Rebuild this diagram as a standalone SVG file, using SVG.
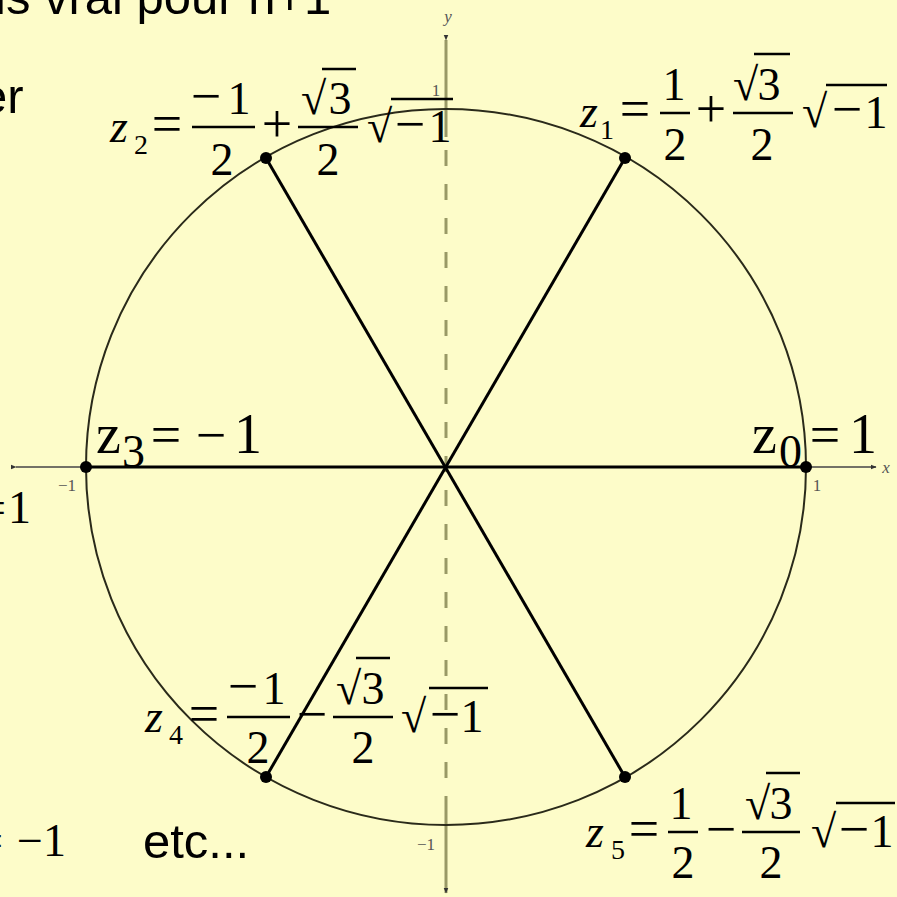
<svg xmlns="http://www.w3.org/2000/svg" width="897" height="897" viewBox="0 0 897 897">
<defs>
<style>
.m{font-family:"Liberation Serif","Times New Roman",serif;fill:#000;font-size:46px}
.op{font-family:"Liberation Serif","Times New Roman",serif;fill:#000;font-size:54px;text-anchor:middle}
.c{text-anchor:middle}
.it{font-style:italic}
.sub{font-size:28px}
.big{font-size:56px}
.sans{font-family:"Liberation Sans",Arial,sans-serif;fill:#000;font-size:49px}
.tick{font-family:"Liberation Serif","Times New Roman",serif;fill:#555;font-size:17px;text-anchor:middle}
.bar{stroke:#000;stroke-width:2.5}
.spoke{stroke:#000;stroke-width:3}
.dot{fill:#000}
</style>
<marker id="ah" viewBox="0 0 10 10" refX="9" refY="5" markerWidth="6" markerHeight="6" markerUnits="userSpaceOnUse" orient="auto"><path d="M0,1 L10,5 L0,9 Z" fill="#333"/></marker>
</defs>
<rect width="897" height="897" fill="#FDFCC9"/>
<g id="background-text">
<text class="sans" x="-5" y="14">is vrai pour n+1</text>
<text class="sans" x="-20" y="113" font-size="50">er</text>
<text class="m" x="6" y="523" font-size="50" text-anchor="end">=</text>
<text class="m" x="8" y="523" font-size="50">1</text>
<text class="m" x="3" y="856" font-size="50" text-anchor="end">=</text>
<text class="m" x="66" y="856" font-size="50" text-anchor="end">−1</text>
<text class="sans" x="143" y="858" font-size="48">etc...</text>
</g>
<g id="axes">
<line x1="446" y1="40" x2="446" y2="137" stroke="#999966" stroke-width="3" marker-start="url(#ah)"/>
<line x1="446" y1="150" x2="446" y2="800" stroke="#999966" stroke-width="3" stroke-dasharray="16 18"/>
<line x1="446" y1="800" x2="446" y2="893" stroke="#999966" stroke-width="3" marker-end="url(#ah)"/>
<line x1="16" y1="467" x2="876" y2="467" stroke="#444" stroke-width="1.5" marker-start="url(#ah)" marker-end="url(#ah)"/>
<text class="tick it" x="448" y="22" fill="#888" font-size="18">y</text>
<text class="tick it" x="886" y="473" font-size="18" text-anchor="start">x</text>
<text class="tick" x="436" y="96">1</text>
<text class="tick" x="67" y="491">−1</text>
<text class="tick" x="817" y="491">1</text>
<text class="tick" x="426" y="850">−1</text>
</g>
<ellipse id="circle" cx="446" cy="467" rx="360" ry="358" fill="none" stroke="#2a2a1a" stroke-width="2"/>
<g id="connectors">
<line class="spoke" x1="86" y1="467" x2="806" y2="467"/>
<line class="spoke" x1="625" y1="158" x2="266" y2="777"/>
<line class="spoke" x1="266" y1="158" x2="625" y2="777"/>
</g>
<g id="z0">
<circle class="dot" cx="806" cy="467" r="6"/>
<text class="m big" x="752" y="453">z</text>
<text class="m" x="779" y="467" font-size="34">0</text>
<text class="op" x="825" y="453" font-size="62">=</text>
<text class="m big c" x="863" y="453">1</text>
</g>
<g id="z1">
<circle class="dot" cx="625" cy="158" r="6"/>
<text class="m it" x="580" y="127">z</text>
<text class="m sub" x="600" y="139">1</text>
<text class="op" x="635" y="127">=</text>
<text class="m c" x="674" y="100">1</text>
<line class="bar" x1="660" y1="113" x2="690" y2="113"/>
<text class="m c" x="675" y="160">2</text>
<text class="op" x="711" y="127">+</text>
<text class="m" x="733" y="100">√</text>
<line class="bar" x1="754" y1="54" x2="790" y2="54"/>
<text class="m c" x="769" y="100">3</text>
<line class="bar" x1="733" y1="113" x2="793" y2="113"/>
<text class="m c" x="762" y="160">2</text>
<text class="m" x="802" y="127">√</text>
<line class="bar" x1="826" y1="85" x2="887" y2="85"/>
<text class="op" x="847" y="127">−</text>
<text class="m c" x="876" y="128">1</text>
</g>
<g id="z2">
<circle class="dot" cx="266" cy="158" r="6"/>
<text class="m it" x="110" y="142">z</text>
<text class="m sub" x="134" y="154">2</text>
<text class="op" x="167" y="142">=</text>
<text class="op" x="206" y="114">−</text>
<text class="m c" x="239" y="114">1</text>
<line class="bar" x1="192" y1="127" x2="255" y2="127"/>
<text class="m c" x="222" y="175">2</text>
<text class="op" x="277" y="142">+</text>
<text class="m" x="301" y="114">√</text>
<line class="bar" x1="322" y1="69" x2="356" y2="69"/>
<text class="m c" x="340" y="114">3</text>
<line class="bar" x1="298" y1="127" x2="358" y2="127"/>
<text class="m c" x="328" y="175">2</text>
<text class="m" x="367" y="142">√</text>
<line class="bar" x1="391" y1="99" x2="453" y2="99"/>
<text class="op" x="410" y="142">−</text>
<text class="m c" x="440" y="142">1</text>
</g>
<g id="z3">
<circle class="dot" cx="86" cy="467" r="6"/>
<text class="m big" x="96" y="453">z</text>
<text class="m" x="122" y="467" font-size="32">3</text>
<text class="op" x="166" y="453" font-size="62">=</text>
<text class="op" x="211" y="453" font-size="62">−</text>
<text class="m big c" x="248" y="453">1</text>
</g>
<g id="z4">
<circle class="dot" cx="266" cy="777" r="6"/>
<text class="m it" x="145" y="732">z</text>
<text class="m sub" x="169" y="744">4</text>
<text class="op" x="204" y="732">=</text>
<text class="op" x="243" y="704">−</text>
<text class="m c" x="274" y="704">1</text>
<line class="bar" x1="227" y1="717" x2="290" y2="717"/>
<text class="m c" x="258" y="763">2</text>
<text class="op" x="312" y="732">−</text>
<text class="m" x="336" y="704">√</text>
<line class="bar" x1="356" y1="658" x2="390" y2="658"/>
<text class="m c" x="373" y="704">3</text>
<line class="bar" x1="333" y1="717" x2="393" y2="717"/>
<text class="m c" x="363" y="763">2</text>
<text class="m" x="401" y="732">√</text>
<line class="bar" x1="429" y1="688" x2="488" y2="688"/>
<text class="op" x="445" y="732">−</text>
<text class="m c" x="472" y="732">1</text>
</g>
<g id="z5">
<circle class="dot" cx="625" cy="777" r="6"/>
<text class="m it" x="586" y="847">z</text>
<text class="m sub" x="611" y="859">5</text>
<text class="op" x="644" y="847">=</text>
<text class="m c" x="681" y="819">1</text>
<line class="bar" x1="668" y1="832" x2="698" y2="832"/>
<text class="m c" x="683" y="878">2</text>
<text class="op" x="721" y="847">−</text>
<text class="m" x="745" y="819">√</text>
<line class="bar" x1="766" y1="773" x2="800" y2="773"/>
<text class="m c" x="781" y="819">3</text>
<line class="bar" x1="742" y1="832" x2="800" y2="832"/>
<text class="m c" x="771" y="878">2</text>
<text class="m" x="811" y="847">√</text>
<line class="bar" x1="836" y1="803" x2="895" y2="803"/>
<text class="op" x="854" y="847">−</text>
<text class="m c" x="882" y="847">1</text>
</g>
</svg>
